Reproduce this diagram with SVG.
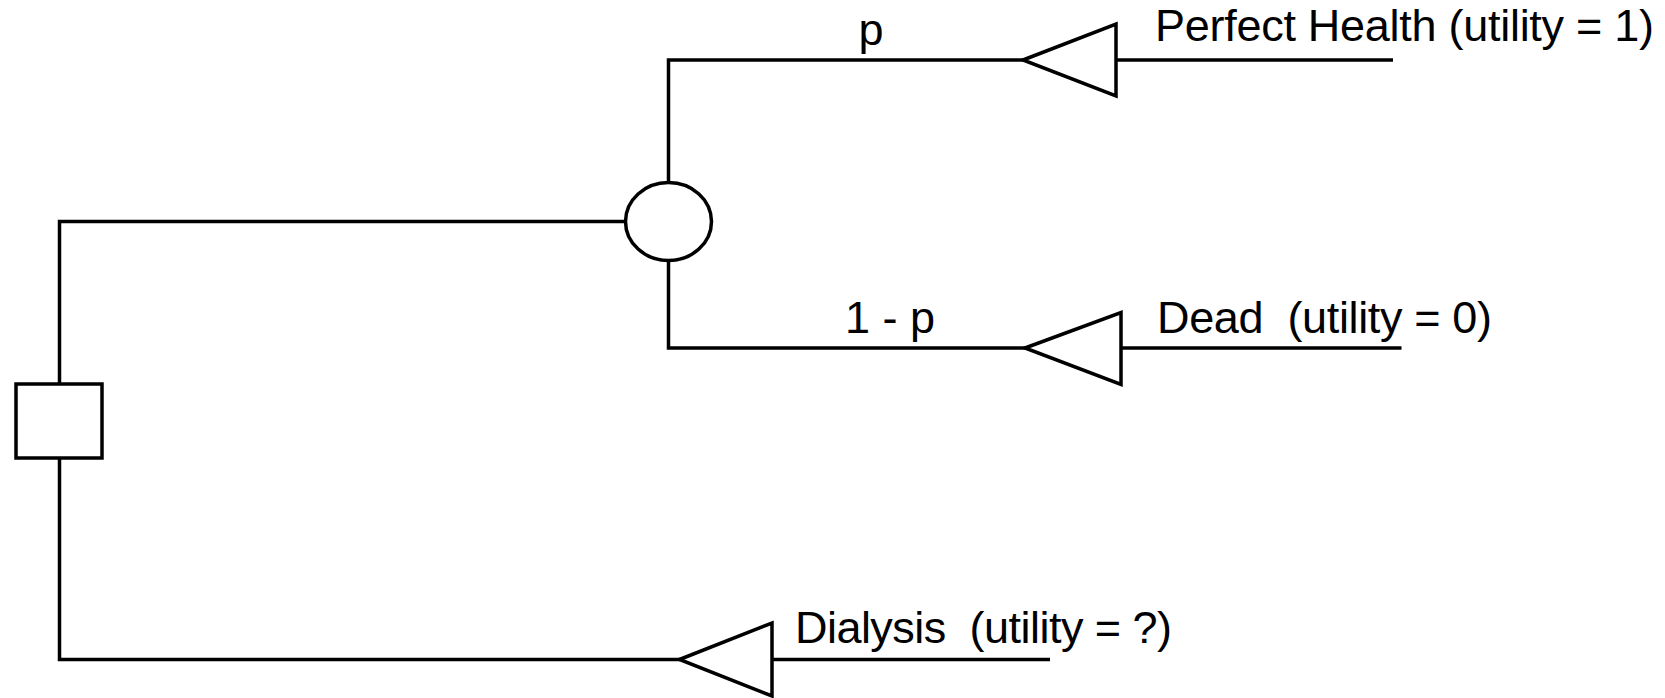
<svg xmlns="http://www.w3.org/2000/svg" width="1665" height="698" viewBox="0 0 1665 698">
<style>
.ln{fill:none;stroke:#000;stroke-width:3.5;stroke-linejoin:miter}
.nd{fill:#fff;stroke:#000;stroke-width:3.5}
.tx{font-family:"Liberation Sans",Arial,sans-serif;font-size:45px;fill:#000;white-space:pre}
</style>
<rect width="1665" height="698" fill="#fff"/>
<g id="connectors">
<path class="ln" d="M625 221.5 H59.5 V384"/>
<path class="ln" d="M59.5 458 V659.5 H680"/>
<path class="ln" d="M668.5 182.5 V60 H1023"/>
<path class="ln" d="M668.5 260.5 V348 H1025"/>
<path class="ln" d="M1116 60 H1393"/>
<path class="ln" d="M1121 348 H1401.5"/>
<path class="ln" d="M772 659.5 H1050"/>
<text class="tx" x="871" y="45" text-anchor="middle">p</text>
<text class="tx" x="890" y="333" text-anchor="middle">1 - p</text>
</g>
<g id="decision">
<rect class="nd" x="16" y="384" width="86" height="74"/>
</g>
<g id="chance">
<ellipse class="nd" cx="668.5" cy="221.5" rx="43" ry="39"/>
</g>
<g id="perfect-health">
<polygon class="nd" points="1023,60 1116,24 1116,96"/>
<text class="tx" x="1155" y="41" textLength="499" lengthAdjust="spacing">Perfect Health (utility = 1)</text>
</g>
<g id="dead">
<polygon class="nd" points="1025,348 1121,312.5 1121,384.5"/>
<text class="tx" x="1157" y="333" textLength="335" lengthAdjust="spacing">Dead  (utility = 0)</text>
</g>
<g id="dialysis">
<polygon class="nd" points="679.5,659.5 772,623 772,696"/>
<text class="tx" x="795" y="643" textLength="377" lengthAdjust="spacing">Dialysis  (utility = ?)</text>
</g>
</svg>
